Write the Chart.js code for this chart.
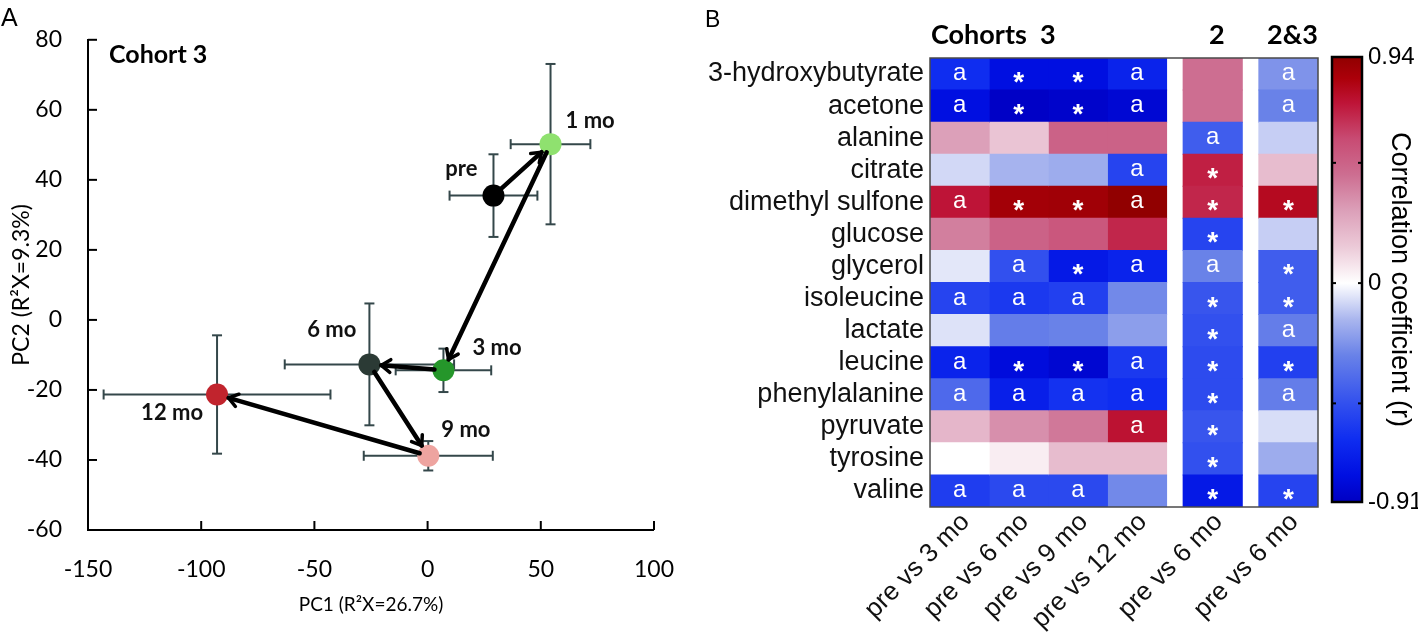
<!DOCTYPE html>
<html><head><meta charset="utf-8">
<script src="https://cdn.jsdelivr.net/npm/chart.js@4.4.1/dist/chart.umd.min.js"></script>
<style>
html,body{margin:0;padding:0;background:#fff;width:1418px;height:632px;overflow:hidden;position:relative;}
canvas{position:absolute;top:0;}
#ca{left:0}
#cb{left:700px}
#cc{left:1300px}
.panel{position:absolute;font-family:"Liberation Sans",Arial,sans-serif;color:#000;}
</style></head><body>
<canvas id="ca" width="700" height="632"></canvas>
<canvas id="cb" width="620" height="632"></canvas>
<canvas id="cc" width="118" height="632"></canvas>
<div class="panel" style="left:1px;top:3px;font-size:25px;">A</div>
<div class="panel" style="left:705px;top:6px;font-size:23px;">B</div>
<script>
// ---------------- DATA: panel A (PCA scores, Cohort 3) ----------------
const timepoints = ['pre', '1 mo', '3 mo', '6 mo', '9 mo', '12 mo'];
const pc1 = [29.1, 54.3, 7.0, -25.7, 0.3, -93.0];
const pc2 = [35.5, 50.2, -14.4, -12.7, -38.8, -21.3];
const pc1Err = [19.4, 17.6, 21.1, 37.4, 28.5, 50.1];
const pc2Err = [11.8, 22.9, 6.2, 17.4, 4.2, 16.9];
const pcXTicks = [-150, -100, -50, 0, 50, 100];
const pcYTicks = [-60, -40, -20, 0, 20, 40, 60, 80];

// ---------------- DATA: panel B (correlation heatmap) ----------------
const metabolites = ['3-hydroxybutyrate', 'acetone', 'alanine', 'citrate', 'dimethyl sulfone', 'glucose',
  'glycerol', 'isoleucine', 'lactate', 'leucine', 'phenylalanine', 'pyruvate', 'tyrosine', 'valine'];
const comparisonLabels = ['pre vs 3 mo', 'pre vs 6 mo', 'pre vs 9 mo', 'pre vs 12 mo', 'pre vs 6 mo', 'pre vs 6 mo'];
const cohortHeaders = ['Cohorts  3', '2', '2&3'];
const cohortGroupSizes = [4, 1, 1];
const rC3pre3 = [-0.65, -0.80, 0.30, -0.08, 0.75, 0.40, -0.05, -0.55, -0.06, -0.70, -0.40, 0.22, 0.00, -0.58];
const rC3pre6 = [-0.80, -0.90, 0.17, -0.16, 0.88, 0.50, -0.50, -0.60, -0.32, -0.82, -0.72, 0.35, 0.05, -0.53];
const rC3pre9 = [-0.80, -0.88, 0.50, -0.18, 0.89, 0.55, -0.75, -0.57, -0.30, -0.86, -0.63, 0.42, 0.20, -0.53];
const rC3pre12 = [-0.70, -0.85, 0.50, -0.55, 0.94, 0.70, -0.70, -0.28, -0.22, -0.60, -0.65, 0.76, 0.20, -0.28];
const rC2pre6 = [0.45, 0.45, -0.45, 0.72, 0.70, -0.55, -0.30, -0.48, -0.50, -0.52, -0.52, -0.48, -0.50, -0.75];
const rC23pre6 = [-0.25, -0.30, -0.10, 0.20, 0.80, -0.10, -0.45, -0.45, -0.32, -0.57, -0.32, -0.07, -0.18, -0.55];
const sigC3pre3 = ['a', 'a', '', '', 'a', '', '', 'a', '', 'a', 'a', '', '', 'a'];
const sigC3pre6 = ['*', '*', '', '', '*', '', 'a', 'a', '', '*', 'a', '', '', 'a'];
const sigC3pre9 = ['*', '*', '', '', '*', '', '*', 'a', '', '*', 'a', '', '', 'a'];
const sigC3pre12 = ['a', 'a', '', 'a', 'a', '', 'a', '', '', 'a', 'a', 'a', '', ''];
const sigC2pre6 = ['', '', 'a', '*', '*', '*', 'a', '*', '*', '*', '*', '*', '*', '*'];
const sigC23pre6 = ['a', 'a', '', '', '*', '', '*', '*', 'a', '*', 'a', '', '', '*'];
const rColumns = [rC3pre3, rC3pre6, rC3pre9, rC3pre12, rC2pre6, rC23pre6];
const sigColumns = [sigC3pre3, sigC3pre6, sigC3pre9, sigC3pre12, sigC2pre6, sigC23pre6];
const rMin = -0.91, rMax = 0.94;
const colorbarTicks = [-0.91, 0, 0.94];
const colorbarMarks = [-0.5, 0, 0.5];

// ---------------- STYLE ----------------
const pointColors = ['#000000', '#8fe16f', '#25962a', '#2b3a35', '#eea4a0', '#c1242d'];
const labelPlacement = [
  {align: 'right', dx: -16, dy: -20},
  {align: 'left', dx: 15, dy: -16},
  {align: 'left', dx: 29, dy: -15},
  {align: 'right', dx: -13, dy: -27},
  {align: 'left', dx: 13, dy: -19},
  {align: 'right', dx: -14, dy: 26}
];
const cmapStops = [
  [-0.91, [0, 0, 195]], [-0.8, [0, 15, 225]], [-0.65, [15, 45, 240]], [-0.5, [50, 80, 238]],
  [-0.3, [105, 130, 232]], [-0.15, [170, 182, 238]], [0, [255, 255, 255]], [0.15, [236, 202, 216]],
  [0.3, [220, 160, 185]], [0.45, [205, 110, 145]], [0.6, [200, 75, 115]], [0.75, [190, 20, 55]],
  [0.85, [172, 0, 10]], [0.94, [145, 0, 0]]
];
function rColor(v) {
  if (v <= cmapStops[0][0]) return 'rgb(' + cmapStops[0][1].join(',') + ')';
  for (let i = 1; i < cmapStops.length; i++) {
    const [v1, c1] = cmapStops[i], [v0, c0] = cmapStops[i - 1];
    if (v <= v1) {
      const t = (v - v0) / (v1 - v0);
      return 'rgb(' + c0.map((c, k) => Math.round(c + (c1[k] - c) * t)).join(',') + ')';
    }
  }
  return 'rgb(' + cmapStops[cmapStops.length - 1][1].join(',') + ')';
}
const FA = 'Lato, "Open Sans", sans-serif';
const FB = '"Liberation Sans", Arial, sans-serif';

// ================= PANEL A =================
function line(ctx, x1, y1, x2, y2) { ctx.beginPath(); ctx.moveTo(x1, y1); ctx.lineTo(x2, y2); ctx.stroke(); }
const panelAPlugin = {
  id: 'panelA',
  beforeDatasetsDraw(chart) {
    const {ctx, scales: {x, y}, chartArea: a} = chart;
    ctx.save();
    ctx.strokeStyle = '#000'; ctx.lineWidth = 2;
    pcYTicks.forEach(v => { const py = y.getPixelForValue(v); line(ctx, a.left, py, a.left + 9, py); });
    pcXTicks.forEach(v => { const px = x.getPixelForValue(v); line(ctx, px, a.bottom, px, a.bottom - 9); });
    ctx.strokeStyle = '#34474a'; ctx.lineWidth = 2;
    pc1.forEach((v, i) => {
      const cx = x.getPixelForValue(v), cy = y.getPixelForValue(pc2[i]);
      const xl = x.getPixelForValue(v - pc1Err[i]), xr = x.getPixelForValue(v + pc1Err[i]);
      const yt = y.getPixelForValue(pc2[i] + pc2Err[i]), yb = y.getPixelForValue(pc2[i] - pc2Err[i]);
      line(ctx, xl, cy, xr, cy); line(ctx, xl, cy - 5, xl, cy + 5); line(ctx, xr, cy - 5, xr, cy + 5);
      line(ctx, cx, yt, cx, yb); line(ctx, cx - 5, yt, cx + 5, yt); line(ctx, cx - 5, yb, cx + 5, yb);
    });
    ctx.restore();
  },
  afterDatasetsDraw(chart) {
    const {ctx, scales: {x, y}, chartArea: a} = chart;
    ctx.save();
    const R = 11;
    ctx.strokeStyle = '#000'; ctx.lineCap = 'round'; ctx.lineJoin = 'round';
    for (let i = 0; i < pc1.length - 1; i++) {
      const x0 = x.getPixelForValue(pc1[i]), y0 = y.getPixelForValue(pc2[i]);
      const x1 = x.getPixelForValue(pc1[i + 1]), y1 = y.getPixelForValue(pc2[i + 1]);
      const ang = Math.atan2(y1 - y0, x1 - x0);
      const sx = x0 + Math.cos(ang) * (R - 2), sy = y0 + Math.sin(ang) * (R - 2);
      const ex = x1 - Math.cos(ang) * (R + 1), ey = y1 - Math.sin(ang) * (R + 1);
      ctx.lineWidth = 4.5; line(ctx, sx, sy, ex, ey);
      ctx.lineWidth = 3.5;
      const h = 11, sp = 0.62;
      ctx.beginPath();
      ctx.moveTo(ex - h * Math.cos(ang - sp), ey - h * Math.sin(ang - sp));
      ctx.lineTo(ex, ey);
      ctx.lineTo(ex - h * Math.cos(ang + sp), ey - h * Math.sin(ang + sp));
      ctx.stroke();
    }
    ctx.fillStyle = '#111';
    ctx.font = 'bold 22px ' + FA;
    ctx.textBaseline = 'alphabetic';
    timepoints.forEach((t, i) => {
      const p = labelPlacement[i];
      ctx.textAlign = p.align;
      ctx.fillText(t, x.getPixelForValue(pc1[i]) + p.dx, y.getPixelForValue(pc2[i]) + p.dy);
    });
    ctx.textAlign = 'left';
    ctx.font = 'bold 25px ' + FA;
    ctx.fillStyle = '#000';
    ctx.fillText('Cohort 3', a.left + 21, a.top + 23);
    ctx.restore();
  }
};

new Chart(document.getElementById('ca'), {
  type: 'scatter',
  data: {datasets: [{
    data: pc1.map((v, i) => ({x: v, y: pc2[i]})),
    pointRadius: 11, pointHoverRadius: 11, pointBorderWidth: 0,
    pointBackgroundColor: pointColors, pointBorderColor: pointColors
  }]},
  options: {
    responsive: false, animation: false, devicePixelRatio: 1,
    layout: {padding: {top: 20, right: 43, left: 0, bottom: 0}},
    plugins: {legend: {display: false}, tooltip: {enabled: false}},
    scales: {
      x: {
        type: 'linear', min: -150, max: 100,
        afterBuildTicks: s => { s.ticks = pcXTicks.map(v => ({value: v})); },
        grid: {display: false, drawTicks: false},
        border: {display: true, color: '#000', width: 2},
        ticks: {font: {family: FA, size: 23}, color: '#000', padding: 26, maxRotation: 0, autoSkip: false},
        title: {display: true, text: 'PC1 (R²X=26.7%)', font: {family: FA, size: 19}, color: '#000', padding: {top: 0, bottom: 16}},
        afterFit: s => { s.height = 102; }
      },
      y: {
        type: 'linear', min: -60, max: 80,
        afterBuildTicks: s => { s.ticks = pcYTicks.map(v => ({value: v})); },
        grid: {display: false, drawTicks: false},
        border: {display: true, color: '#000', width: 2},
        ticks: {font: {family: FA, size: 23}, color: '#000', padding: 26, autoSkip: false},
        title: {display: true, text: 'PC2 (R²X=9.3%)', font: {family: FA, size: 23}, color: '#000', padding: {top: 8, bottom: 0}},
        afterFit: s => { s.width = 88; }
      }
    }
  },
  plugins: [panelAPlugin]
});

// ================= PANEL B =================
const GAP = 0.28;
const colSpans = [];
(function () {
  let pos = 0;
  cohortGroupSizes.forEach((g, gi) => {
    if (gi > 0) pos += GAP;
    for (let k = 0; k < g; k++) { colSpans.push([pos, pos + 1]); pos += 1; }
  });
})();
const xTotal = colSpans[colSpans.length - 1][1];

const heatPlugin = {
  id: 'heat',
  afterDatasetsDraw(chart) {
    const {ctx, chartArea: a, scales: {x}} = chart;
    ctx.save();
    ctx.fillStyle = '#fff';
    ctx.textAlign = 'center';
    sigColumns.forEach((col, c) => {
      const meta = chart.getDatasetMeta(c);
      col.forEach((s, r) => {
        if (!s) return;
        const el = meta.data[r];
        const cx = (el.x + el.base) / 2, cy = el.y;
        if (s === '*') {
          ctx.font = 'bold 28px ' + FB; ctx.textBaseline = 'alphabetic';
          ctx.fillText('*', cx, cy + 17);
        } else {
          ctx.font = '24px ' + FB; ctx.textBaseline = 'alphabetic';
          ctx.fillText(s, cx, cy + 6);
        }
      });
    });
    ctx.strokeStyle = '#4a4a4a'; ctx.lineWidth = 1.5;
    ctx.strokeRect(a.left, a.top, a.right - a.left, a.bottom - a.top);
    // cohort headers
    ctx.fillStyle = '#000';
    ctx.font = 'bold 27px ' + FA;
    ctx.textBaseline = 'alphabetic';
    let idx = 0;
    cohortGroupSizes.forEach((g, gi) => {
      const first = colSpans[idx], last = colSpans[idx + g - 1];
      if (gi === 0) { ctx.textAlign = 'left'; ctx.fillText(cohortHeaders[gi], x.getPixelForValue(first[0]) + 1, 44); }
      else { ctx.textAlign = 'center'; ctx.fillText(cohortHeaders[gi], x.getPixelForValue((first[0] + last[1]) / 2) + 4, 44); }
      idx += g;
    });
    ctx.restore();
  }
};

new Chart(document.getElementById('cb'), {
  type: 'bar',
  data: {
    labels: metabolites,
    datasets: rColumns.map((col, c) => ({
      data: metabolites.map(() => colSpans[c]),
      backgroundColor: col.map(rColor),
      borderWidth: 0, barPercentage: 1, categoryPercentage: 1, grouped: false, inflateAmount: 0.5
    }))
  },
  options: {
    indexAxis: 'y', responsive: false, animation: false, devicePixelRatio: 1,
    layout: {padding: {top: 58, right: 2, left: 0, bottom: 0}},
    plugins: {legend: {display: false}, tooltip: {enabled: false}},
    scales: {
      y: {
        type: 'category', offset: true,
        grid: {display: false, drawTicks: false}, border: {display: false},
        ticks: {font: {family: FB, size: 27}, color: '#111', padding: 6, autoSkip: false},
        afterFit: s => { s.width = 230; }
      },
      x: {
        type: 'linear', min: 0, max: xTotal,
        afterBuildTicks: s => { s.ticks = colSpans.map(sp => ({value: (sp[0] + sp[1]) / 2})); },
        grid: {display: false, drawTicks: false}, border: {display: false},
        ticks: {
          font: {family: FB, size: 26}, color: '#111', padding: 0, labelOffset: 6, autoSkip: false,
          minRotation: 45, maxRotation: 45,
          callback: (v, i) => comparisonLabels[i]
        },
        afterFit: s => { s.height = 125; }
      }
    }
  },
  plugins: [heatPlugin]
});

// ================= COLORBAR =================
const cbarPlugin = {
  id: 'cbar',
  beforeDatasetsDraw(chart) {
    const {ctx, chartArea: a, scales: {y}} = chart;
    const top = y.getPixelForValue(rMax), bot = y.getPixelForValue(rMin);
    ctx.save();
    const g = ctx.createLinearGradient(0, bot, 0, top);
    cmapStops.forEach(([v, c]) => {
      g.addColorStop(Math.min(1, Math.max(0, (v - rMin) / (rMax - rMin))), 'rgb(' + c.join(',') + ')');
    });
    ctx.fillStyle = g;
    ctx.fillRect(a.left, top, a.right - a.left, bot - top);
    ctx.strokeStyle = '#000'; ctx.lineWidth = 2.5;
    ctx.strokeRect(a.left, top, a.right - a.left, bot - top);
    ctx.lineWidth = 2;
    colorbarMarks.forEach(v => {
      const py = y.getPixelForValue(v);
      line(ctx, a.left, py, a.left + 4, py);
      line(ctx, a.right - 4, py, a.right, py);
    });
    ctx.restore();
  }
};
new Chart(document.getElementById('cc'), {
  type: 'scatter',
  data: {datasets: [{data: []}]},
  options: {
    responsive: false, animation: false, devicePixelRatio: 1,
    layout: {padding: {top: 57, left: 32, right: 0, bottom: 130}},
    plugins: {legend: {display: false}, tooltip: {enabled: false}},
    scales: {
      x: {display: false, min: 0, max: 1},
      y: {
        type: 'linear', position: 'right', min: rMin, max: rMax,
        afterBuildTicks: s => { s.ticks = colorbarTicks.map(v => ({value: v})); },
        grid: {display: false, drawTicks: false}, border: {display: false},
        ticks: {font: {family: FB, size: 24}, color: '#000', padding: 6, autoSkip: false,
          callback: v => String(v)},
        title: {display: true, text: 'Correlation coefficient (r)', font: {family: FB, size: 27}, color: '#000', padding: {top: 2, bottom: 0}},
        afterFit: s => { s.width = 56; }
      }
    }
  },
  plugins: [cbarPlugin]
});
</script>
</body></html>
